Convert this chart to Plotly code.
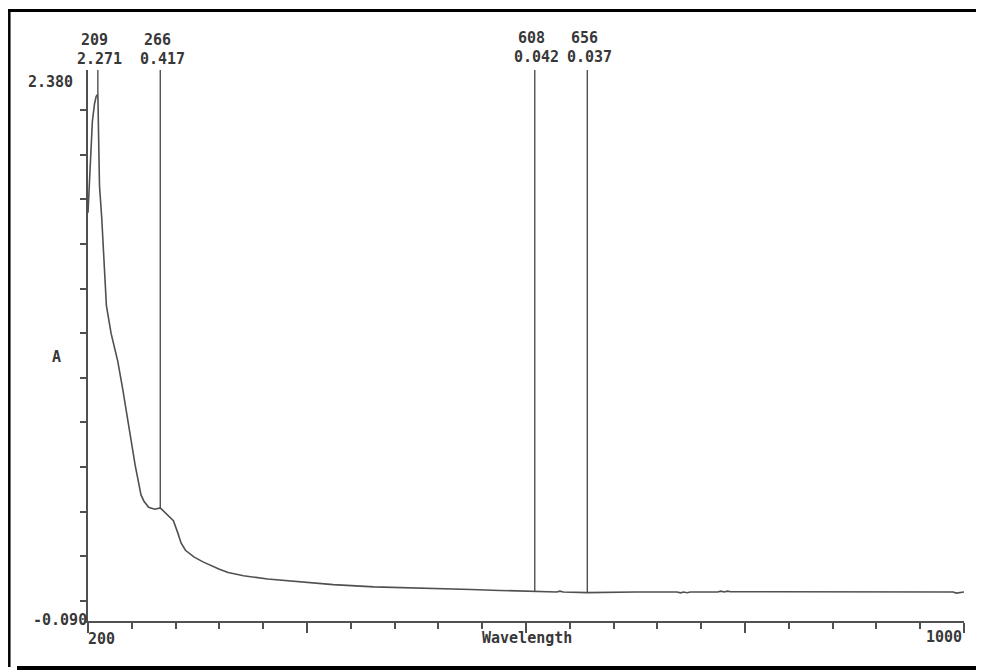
import plotly.graph_objects as go

# ---------------- data ----------------
wavelength_nm = [200, 202, 204, 206, 207.5, 209, 209.8, 210.5, 212.5, 214, 216.8,
                 221.1, 224.6, 227.2, 231.6, 235.9, 243.1, 248.4, 251.1, 255.4,
                 260.9, 266, 270, 274, 278, 282, 285, 289, 297, 305, 312, 320,
                 328, 342, 364, 394, 424, 461, 490, 522, 550, 576, 608, 628,
                 631, 634, 656, 680, 700, 738, 741, 744, 747, 750, 775, 778,
                 781, 784, 787, 820, 870, 920, 960, 990, 993, 997, 1000]
absorbance = [1.74, 1.98, 2.15, 2.23, 2.262, 2.271, 2.10, 1.86, 1.72, 1.56, 1.324,
              1.199, 1.132, 1.074, 0.953, 0.819, 0.608, 0.475, 0.447, 0.420,
              0.411, 0.417, 0.398, 0.380, 0.360, 0.305, 0.260, 0.227, 0.196, 0.175,
              0.159, 0.142, 0.127, 0.113, 0.098, 0.084, 0.073, 0.063, 0.060, 0.056,
              0.051, 0.047, 0.042, 0.040, 0.044, 0.040, 0.037, 0.039, 0.040, 0.040,
              0.036, 0.040, 0.037, 0.040, 0.040, 0.044, 0.040, 0.044, 0.041, 0.041,
              0.041, 0.040, 0.040, 0.040, 0.035, 0.036, 0.040]

marker_nm = [209, 266, 608, 656]
marker_abs = [2.271, 0.417, 0.042, 0.037]
marker_nm_text = ["209", "266", "608", "656"]
marker_abs_text = ["2.271", "0.417", "0.042", "0.037"]

x_range = [200, 1000]
y_range = [-0.090, 2.380]
x_major_ticks = [200, 400, 600, 800, 1000]
x_minor_ticks = [240, 280, 320, 360, 440, 480, 520, 560, 640, 680, 720, 760,
                 840, 880, 920, 960]
y_ticks = [0.0, 0.2, 0.4, 0.6, 0.8, 1.0, 1.2, 1.4, 1.6, 1.8, 2.0, 2.2]
x_end_labels = ["200", "1000"]
y_end_labels = ["-0.090", "2.380"]
x_title = "Wavelength"
y_title = "A"

# ---------------- geometry helpers ----------------
# the page body adds an 8px offset, so the figure is a bit smaller
OFF = 8
W, H = 984 - OFF, 671 - OFF
L, R, T, B = 80, 20, 62, 50
PW, PH = W - L - R, H - T - B


def pxx(px):
    # px given in screen coordinates
    return (px - OFF - L) / PW


def pxy(py):
    return (H - B - (py - OFF)) / PH


INK = "#383838"
LINE = "#505050"
FONT = dict(family="DejaVu Sans Mono", size=15, color=INK)

fig = go.Figure()
fig.add_trace(go.Scatter(x=wavelength_nm, y=absorbance, mode="lines",
                         line=dict(color=LINE, width=1.6), hoverinfo="skip",
                         showlegend=False))

shapes = []
annotations = []


def bold(s):
    return "<b>" + s + "</b>"


# peak marker lines and labels
for nm, a, t1, t2 in zip(marker_nm, marker_abs, marker_nm_text, marker_abs_text):
    shapes.append(dict(type="line", xref="x", yref="y", x0=nm, x1=nm,
                       y0=a, y1=y_range[1], line=dict(color=LINE, width=1.4)))
    up = 2 if nm > 400 else 0
    annotations.append(dict(xref="x", yref="paper", x=nm, y=pxy(40 - up),
                            text=bold(t1), showarrow=False, xanchor="center",
                            yanchor="middle", xshift=-3, font=FONT))
    annotations.append(dict(xref="x", yref="paper", x=nm, y=pxy(59 - up),
                            text=bold(t2), showarrow=False, xanchor="center",
                            yanchor="middle", xshift=2, font=FONT))

# axis end labels
annotations.append(dict(xref="paper", yref="paper", x=pxx(75), y=pxy(82),
                        text=bold(y_end_labels[1]), showarrow=False, xanchor="right",
                        yanchor="middle", font=FONT))
annotations.append(dict(xref="paper", yref="paper", x=pxx(89), y=pxy(620),
                        text=bold(y_end_labels[0]), showarrow=False, xanchor="right",
                        yanchor="middle", font=FONT))
annotations.append(dict(xref="paper", yref="paper", x=pxx(86), y=pxy(639),
                        text=bold(x_end_labels[0]), showarrow=False, xanchor="left",
                        yanchor="middle", font=FONT))
annotations.append(dict(xref="paper", yref="paper", x=pxx(964), y=pxy(637),
                        text=bold(x_end_labels[1]), showarrow=False, xanchor="right",
                        yanchor="middle", font=FONT))
annotations.append(dict(xref="paper", yref="paper", x=pxx(527), y=pxy(638),
                        text=bold(x_title), showarrow=False, xanchor="center",
                        yanchor="middle", font=FONT))
annotations.append(dict(xref="paper", yref="paper", x=pxx(56), y=pxy(357),
                        text=bold(y_title), showarrow=False, xanchor="center",
                        yanchor="middle", font=FONT))

# outer frame (top, left, bottom) in screen coordinates
shapes.append(dict(type="line", xref="paper", yref="paper", x0=pxx(8), x1=pxx(990),
                   y0=pxy(10.5), y1=pxy(10.5), line=dict(color="black", width=3)))
shapes.append(dict(type="line", xref="paper", yref="paper", x0=pxx(9.3), x1=pxx(9.3),
                   y0=pxy(9), y1=pxy(667), line=dict(color="black", width=2.5)))
shapes.append(dict(type="line", xref="paper", yref="paper", x0=pxx(17), x1=pxx(990),
                   y0=pxy(668), y1=pxy(668), line=dict(color="black", width=4)))

axis_common = dict(showgrid=False, zeroline=False, showline=True,
                   linecolor=LINE, linewidth=1.5, ticks="outside",
                   tickcolor=LINE, tickwidth=1.5, showticklabels=False,
                   fixedrange=True)

fig.update_layout(
    width=W, height=H, autosize=False,
    margin=dict(l=L, r=R, t=T, b=B, pad=0),
    paper_bgcolor="white", plot_bgcolor="white",
    xaxis=dict(range=x_range, tickmode="array", tickvals=x_major_ticks,
               ticklen=10,
               minor=dict(tickmode="array", tickvals=x_minor_ticks, ticklen=6,
                          ticks="outside", tickcolor=LINE, tickwidth=1.5,
                          showgrid=False),
               **axis_common),
    yaxis=dict(range=y_range, tickmode="array", tickvals=y_ticks, ticklen=6,
               **axis_common),
    shapes=shapes,
    annotations=annotations,
    showlegend=False,
)

fig.write_html("out.html")
